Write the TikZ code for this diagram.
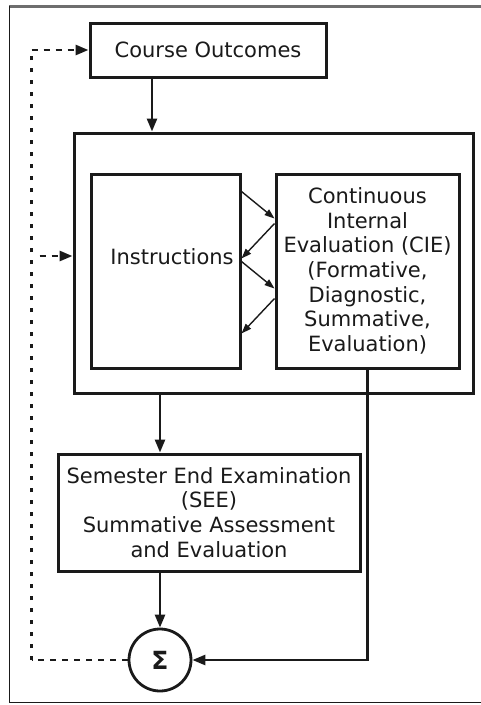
\documentclass[tikz,border=0pt]{standalone}
\usepackage{fontspec}
\setmainfont{DejaVu Sans}
\usetikzlibrary{arrows.meta}
\definecolor{ink}{HTML}{1A1A1A}
\definecolor{framegray}{HTML}{6E6E6E}
\begin{document}
\begin{tikzpicture}[x=1pt,y=-1pt,
  every node/.style={text=ink},
  blk/.style={draw=ink,line width=3pt,rectangle,inner sep=0pt,align=center,
    font=\fontsize{21}{24.7}\selectfont},
  flow/.style={draw=ink,line width=2.6pt,-{Triangle[length=13pt,width=10pt]}},
  thin/.style={draw=ink,line width=1.4pt,-{Triangle[length=10pt,width=7pt]}},
  fbdash/.style={draw=ink,line width=2.8pt,dash pattern=on 6pt off 6pt},
  fbdot/.style={draw=ink,line width=3pt,dash pattern=on 4.5pt off 7.5pt},
  fbarrow/.style={fbdash,-{Triangle[length=13pt,width=10pt]}}]
  \useasboundingbox (0,0) rectangle (481,705);
  \fill[white] (0,0) rectangle (481,705);

  % outer frame, open on the right
  \draw[framegray,line width=2.2pt] (9,6.5) -- (481,6.5);
  \draw[ink,line width=1.8pt] (9.5,6) -- (9.5,702.5) -- (481,702.5);

  % blocks
  \node[blk,minimum width=236pt,minimum height=54pt] (co) at (208,50) {Course Outcomes};
  \node[blk,minimum width=399pt,minimum height=260pt] (big) at (273.5,263) {};
  \node[blk,minimum width=149pt,minimum height=194pt] (ins) at (165.5,271) {};
  \node[font=\fontsize{21}{24.7}\selectfont,inner sep=0pt] (instxt) at (172,257) {Instructions};
  \node[blk,minimum width=183pt,minimum height=194pt] (cie) at (367.5,271)
    {Continuous\\Internal\\Evaluation (CIE)\\(Formative,\\Diagnostic,\\Summative,\\Evaluation)};
  \node[blk,minimum width=302pt,minimum height=117pt] (see) at (209,512.5)
    {Semester End Examination\\(SEE)\\Summative Assessment\\and Evaluation};
  \node[draw=ink,line width=2.8pt,circle,minimum size=62pt,inner sep=0pt,
    font=\fontsize{25}{28}\selectfont\bfseries] (sum) at (160,660) {Σ};

  % helper coordinates for connector columns
  \coordinate (c1) at (152,0);
  \coordinate (c2) at (160,0);
  \coordinate (fbx) at (31.5,0);
  \coordinate (fbm) at (31.5,256);

  % main flow
  \draw[flow] (c1 |- co.south) -- (c1 |- big.north);
  \draw[flow] (c2 |- big.south) -- (c2 |- see.north);
  \draw[flow] (see.south -| sum.north) -- (sum.north);
  \draw[flow] (cie.south) |- (sum.east);

  % exchange between instruction and CIE
  \draw[thin] ([yshift=-19pt]ins.north east) -- ([yshift=-46pt]cie.north west);
  \draw[thin] ([yshift=-51pt]cie.north west) -- ([yshift=-86pt]ins.north east);
  \draw[thin] ([yshift=-89pt]ins.north east) -- ([yshift=-116pt]cie.north west);
  \draw[thin] ([yshift=-126pt]cie.north west) -- ([yshift=-161pt]ins.north east);

  % feedback loop
  \draw[fbdash] (sum.west) -- (fbx |- sum.west);
  \draw[fbdot] (fbx |- sum.west) -- (fbx |- co.west);
  \draw[fbarrow] (fbx |- co.west) -- (co.west);
  \draw[fbarrow] ([xshift=8pt]fbm) -- (fbm -| big.west);
\end{tikzpicture}
\end{document}
